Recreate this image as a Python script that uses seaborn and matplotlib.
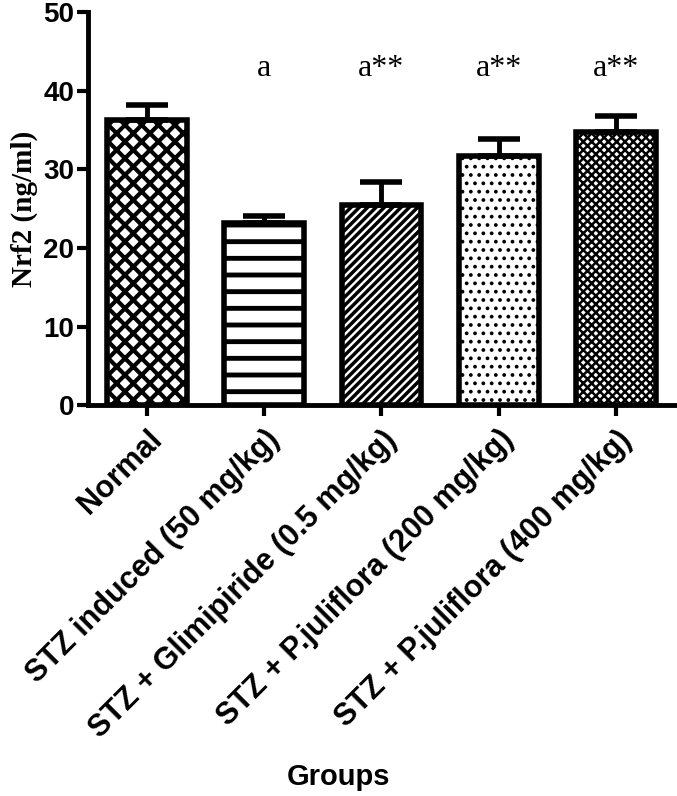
import numpy as np
import pandas as pd
import seaborn as sns
import matplotlib.pyplot as plt

# values
groups = ["Normal", "STZ induced (50 mg/kg)", "STZ + Glimipiride (0.5 mg/kg)",
          "STZ + P.juliflora (200 mg/kg)", "STZ + P.juliflora (400 mg/kg)"]
nrf2 = [36.2, 23.1, 25.4, 31.7, 34.7]
sem = [2.0, 0.9, 3.0, 2.1, 2.1]
marks = ["", "a", "a**", "a**", "a**"]
hatches = ["xx", "-", "////", "..", "xxxx"]
hatch_lw = [3.0, 3.5, 2.5, 1.5, 1.8]

sns.set_style("ticks")
plt.rcParams["font.family"] = ["Liberation Sans", "DejaVu Sans"]
for k in ["text.color", "axes.labelcolor", "xtick.color", "ytick.color", "axes.edgecolor"]:
    plt.rcParams[k] = "black"

df = pd.DataFrame({"group": groups, "nrf2": nrf2})

fig = plt.figure(figsize=(6.77, 7.96), dpi=100)
ax = fig.add_axes([0.13, 0.491, 0.867, 0.494])

sns.barplot(data=df, x="group", y="nrf2", color="white", width=0.68,
            edgecolor="black", linewidth=4, errorbar=None, ax=ax)

for bar, h, lw in zip(ax.patches, hatches, hatch_lw):
    bar.set_hatch(h)
    bar.set_facecolor("white")
    bar.set_edgecolor("black")
    if hasattr(bar, "set_hatch_linewidth"):
        bar.set_hatch_linewidth(lw)

x = np.arange(len(groups))
ax.errorbar(x, nrf2, yerr=[np.zeros(len(sem)), sem], fmt="none",
            ecolor="black", elinewidth=3.5, capsize=15, capthick=4, zorder=1)

for xi, m in zip(x, marks):
    if m:
        ax.text(xi, 42.8, m, ha="center", va="center", fontsize=23,
                family=["Liberation Serif"])

ax.set_ylim(0, 50)
ax.set_xlim(-0.5, 4.5)
ax.set_yticks([0, 10, 20, 30, 40, 50])
ax.set_xticks(x)
ax.set_xticklabels(groups, rotation=45, ha="right", rotation_mode="anchor",
                   fontsize=22, fontweight="bold")
ax.tick_params(axis="y", labelsize=20, width=3, length=8, pad=2)
ax.tick_params(axis="x", width=3, length=8, pad=6)
for lab in ax.get_yticklabels():
    lab.set_fontweight("bold")

ax.set_ylabel("Nrf2 (ng/ml)", fontsize=21, fontweight="bold",
              family=["Liberation Serif"], labelpad=4)
ax.set_xlabel("")
fig.text(0.5, 0.024, "Groups", ha="center", va="center", fontsize=21,
         fontweight="bold")

sns.despine(ax=ax)
for s in ["left", "bottom"]:
    ax.spines[s].set_linewidth(3.5)

fig.savefig("out.png", dpi=100)
